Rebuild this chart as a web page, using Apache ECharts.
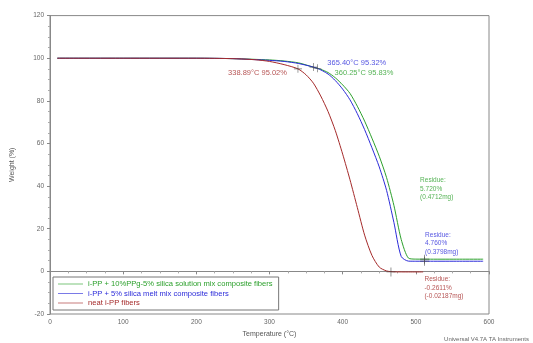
<!DOCTYPE html>
<html><head><meta charset="utf-8">
<script src="https://cdn.jsdelivr.net/npm/echarts@6/dist/echarts.min.js"></script>
<style>html,body{margin:0;padding:0;background:#fff}#c{width:533px;height:343px}</style>
</head><body><div id="c"></div>
<script>
// Temperature (°C) / Weight (%) readings
const greenT = [10,100,200,250,300,320,340,360,370,380,390,400,410,420,430,440,450,460,470,480,490,500,520,560,592];
const greenW = [100,100,100,99.8,99.2,98.7,97.8,95.8,94.8,93.3,90.8,87.5,83.5,77.5,70.5,62.5,54,44,31,15,6.2,5.75,5.72,5.72,5.72];
const blueT  = [10,100,200,250,300,320,340,365,380,390,400,410,420,430,440,450,460,470,480,490,500,520,560,592];
const blueW  = [100,100,100,99.8,99,98.5,97.5,95.3,92.6,89.5,85.5,80.5,74,66.5,58,49,38,23,7,4.8,4.76,4.76,4.76,4.76];
const redT   = [10,100,200,250,280,300,320,339,350,360,370,380,390,400,410,420,430,440,450,460,470,490,510];
const redW   = [100,100,100,99.8,99.3,98.5,97,95,92.2,88.3,82.3,75,66,55,43,30,17,7.5,2,0.2,-0.2,-0.26,-0.26];

const seriesNames = ['i-PP + 10%PPg-5% silica solution mix composite fibers','i-PP + 5% silica melt mix composite fibers','neat i-PP fibers'];
const colors = ['#2ca02c','#2b2bd9','#a52a2a'];

// annotation markers [T, W]
const onsetPts = [[360.25,95.83],[365.40,95.32],[338.89,95.02]];
const onsetTxt = ['360.25°C 95.83%','365.40°C 95.32%','338.89°C 95.02%'];
const residuePts = [[512,5.72],[512,4.76],[466,-0.26]];
const residueTxt = ['Residue:\n5.720%\n(0.4712mg)','Residue:\n4.760%\n(0.3798mg)','Residue:\n-0.2611%\n(-0.02187mg)'];

const xTicks = [0,100,200,300,400,500,600];
const yTicks = [-20,0,20,40,60,80,100,120];

const cross = 'path://M0,4.6h10v0.8h-10z M4.6,0h0.8v10h-0.8z';
const zip = (a,b)=>a.map((v,i)=>[v,b[i]]);
const data = [zip(greenT,greenW), zip(blueT,blueW), zip(redT,redW)];

const series = [];
data.forEach((d,i)=>{
  series.push({name:seriesNames[i],type:'line',data:d,smooth:0.25,showSymbol:false,
    lineStyle:{width:1,color:colors[i]},itemStyle:{color:colors[i]},z:3});
});
const onsetLabelPos = [
  {position:'right',offset:[12,6]},
  {position:'right',offset:[1,-5]},
  {position:'left',offset:[-2,4]}
];
onsetPts.forEach((p,i)=>{
  series.push({type:'scatter',data:[p],symbol:cross,symbolSize:8,itemStyle:{color:'#444'},silent:true,z:4,
    label:{show:true,formatter:onsetTxt[i],color:colors[i],fontSize:7.5,fontFamily:'Arial',
      position:onsetLabelPos[i].position,offset:onsetLabelPos[i].offset}});
});
const resLabel = [[-14,-70],[-9,-18],[24,16]];
residuePts.forEach((p,i)=>{
  series.push({type:'scatter',data:[p],symbol:cross,symbolSize:9,itemStyle:{color:'#444'},silent:true,z:4,
    label:{show:true,formatter:residueTxt[i],color:colors[i],fontSize:6.5,lineHeight:8.5,fontFamily:'Arial',
      position:'right',offset:resLabel[i],align:'left'}});
});

const chart = echarts.init(document.getElementById('c'));
chart.setOption({
  animation:false,
  backgroundColor:'#fff',
  grid:{left:50,right:44,top:15.6,bottom:23.6,show:true,borderColor:'#888',borderWidth:1},
  legend:{show:true,data:seriesNames,orient:'vertical',left:53,bottom:33,itemWidth:25,itemHeight:6,itemGap:1.5,
    padding:[3,6,3,5],borderColor:'#777',borderWidth:1,backgroundColor:'#fff',icon:'path://M0,2.5h40v1h-40z',
    formatter:n=>'{c'+seriesNames.indexOf(n)+'|'+n+'}',
    textStyle:{fontFamily:'Arial',rich:{c0:{color:colors[0],fontSize:7.6},c1:{color:colors[1],fontSize:7.6},c2:{color:colors[2],fontSize:7.6}}},
    selectedMode:false},
  xAxis:{type:'value',min:0,max:600,interval:100,
    name:'Temperature (°C)',nameLocation:'middle',nameGap:17,nameTextStyle:{fontSize:7,color:'#555',fontFamily:'Arial'},
    axisLine:{show:true,lineStyle:{color:'#888'}},axisTick:{show:true,length:3,lineStyle:{color:'#888'}},
    minorTick:{show:true,splitNumber:4,length:2,lineStyle:{color:'#aaa'}},
    axisLabel:{fontSize:6.5,color:'#666',fontFamily:'Arial',margin:5},splitLine:{show:false}},
  yAxis:{type:'value',min:-20,max:120,interval:20,
    name:'Weight (%)',nameLocation:'middle',nameGap:34,nameTextStyle:{fontSize:7,color:'#555',fontFamily:'Arial'},
    axisLine:{show:true,lineStyle:{color:'#888'}},axisTick:{show:true,length:3,lineStyle:{color:'#888'}},
    minorTick:{show:true,splitNumber:4,length:2,lineStyle:{color:'#aaa'}},
    axisLabel:{fontSize:6.5,color:'#666',fontFamily:'Arial',margin:6},splitLine:{show:false}},
  graphic:[{type:'text',right:4,bottom:1,style:{text:'Universal V4.7A TA Instruments',fontSize:6,fill:'#666',fontFamily:'Arial'}}],
  series
});
</script>
</body></html>
